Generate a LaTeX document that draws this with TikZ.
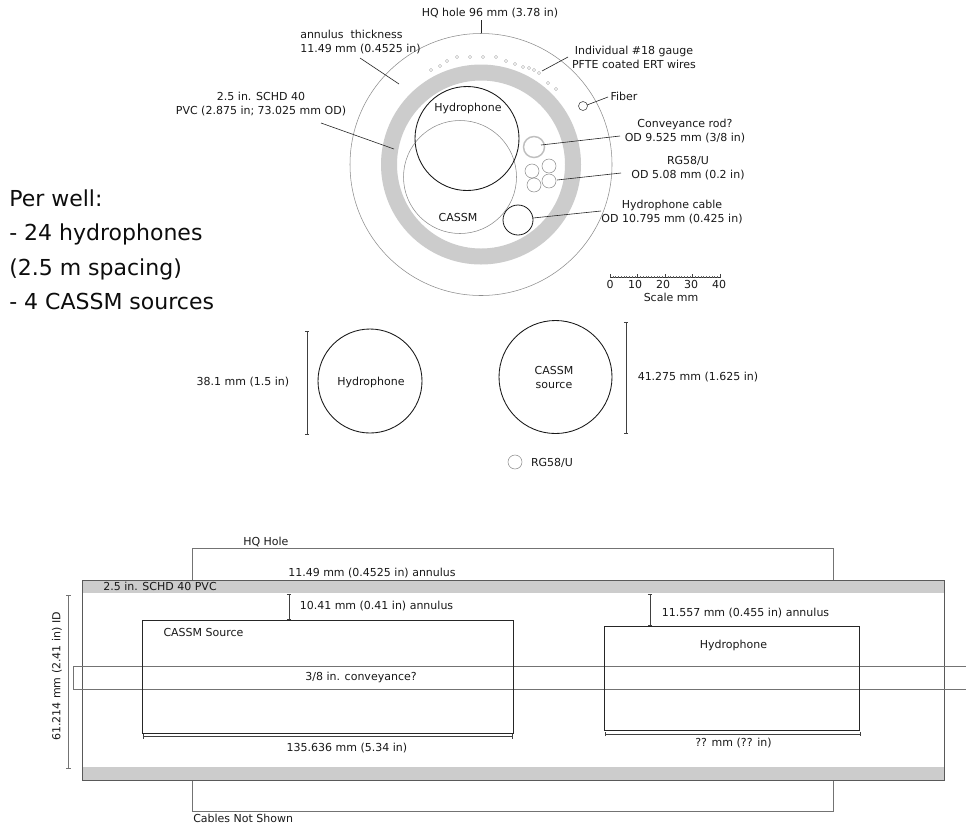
\documentclass[tikz,border=0pt]{standalone}
\usepackage{fontspec}
\usetikzlibrary{arrows.meta}
\setmainfont{DejaVu Sans}
\definecolor{pvc}{gray}{0.8}
\tikzset{
 x=0.75pt,y=-0.75pt,
 lab/.style={inner sep=0pt,align=center,yshift=-0.75pt,font=\fontsize{8.25pt}{10.4pt}\selectfont,text=black!90},
 big/.style={inner sep=0pt,anchor=base west,font=\fontsize{16.5pt}{20pt}\selectfont,text=black!95},
 leader/.style={draw=black!85,line width=0.45pt},
 thin grey/.style={draw=black!55,line width=0.45pt},
 bold ring/.style={draw=black!90,line width=0.65pt},
 grey ring/.style={draw=black!45,line width=0.4pt},
 rod ring/.style={draw=black!25,line width=1.1pt,fill=white},
 dot/.style={draw=black!35,line width=0.35pt,fill=white},
 box/.style={draw=black!85,line width=0.6pt},
 dim/.style={draw=black!75,line width=0.6pt,{Bar[width=3.2pt,line width=0.4pt]}-{Bar[width=3.2pt,line width=0.4pt]}},
}
\begin{document}
\begin{tikzpicture}
\useasboundingbox (0,0) rectangle (966,826);
% top section
\fill[white] (0,0) rectangle (966,826);
\coordinate (ctr) at (481,164.5);
\draw[grey ring] (ctr) circle (131);
\fill[pvc,even odd rule] (ctr) circle (100) (ctr) circle (84);
\draw[grey ring] (460,177) circle (56.5);
\draw[bold ring] (467,138.5) circle (52);
\draw[bold ring,line width=0.6pt] (518,220) circle (15);
\draw[rod ring] (534,147) circle (10.5);
\foreach \p in {(532,171),(549,166),(534,185),(549,181)} \draw[grey ring] \p circle (7);
\draw[draw=black!70,line width=0.45pt] (583,106) circle (4.5);
\foreach \p in {(431,70),(440,66),(447,61),(457,57),(470,57),(483,57),(496,57),(506,61),(515,64),(523,67),(529,68),(534,70),(539,73),(548,83),(556,89)} \draw[dot] \p circle (1.6);
% labels
\node[lab] (hqhole) at (490,12.5) {HQ hole 96 mm (3.78 in)};
\node[lab,anchor=west,align=left] (annul) at (300,41) {annulus\ \ thickness\\11.49 mm (0.4525 in)};
\node[lab] (pvclab) at (261,103) {2.5 in. SCHD 40\\PVC (2.875 in; 73.025 mm OD)};
\node[lab] (wires) at (634,56.5) {Individual \#18 gauge\\PFTE coated ERT wires};
\node[lab] (fiber) at (624,95) {Fiber};
\node[lab] (rod) at (685,130) {Conveyance rod?\\OD 9.525 mm (3/8 in)};
\node[lab] (rg) at (688,167.5) {RG58/U\\OD 5.08 mm (0.2 in)};
\node[lab] (hcable) at (672,211) {Hydrophone cable\\OD 10.795 mm (0.425 in)};
\node[lab] (hyd1) at (468,107) {Hydrophone};
\node[lab] (cas1) at (458,216.5) {CASSM};
% leaders
\coordinate (a1) at (481,33);
\coordinate (a2) at (399,84);
\coordinate (a2s) at (360,58);
\coordinate (a3s) at (321,123);
\coordinate (a3) at (394,149);
\coordinate (a4s) at (568,57);
\coordinate (a4) at (542,71);
\coordinate (a5s) at (608,97);
\coordinate (a5) at (587,105);
\coordinate (a6s) at (620,136);
\coordinate (a6) at (541,145);
\coordinate (a7s) at (621,173);
\coordinate (a7) at (557,180);
\coordinate (a8s) at (601,211);
\coordinate (a8) at (533,218);
\coordinate (a1s) at (481,20);
\draw[leader] (a1s)--(a1);
\draw[leader] (a2s)--(a2);
\draw[leader] (a3s)--(a3);
\draw[leader] (a4s)--(a4);
\draw[leader] (a5s)--(a5);
\draw[leader] (a6s)--(a6);
\draw[leader] (a7s)--(a7);
\draw[leader] (a8s)--(a8);
% scale
\draw[draw=black!80,line width=0.5pt] (610,277.5)--(720,277.5);
\foreach \i in {0,...,40} \draw[draw=black!60,line width=0.15pt] ({610+\i*2.75},277.5)--({610+\i*2.75},276);
\foreach \i in {0,10,...,40} \draw[draw=black!75,line width=0.3pt] ({610+\i*2.75},277.5)--({610+\i*2.75},274);
\node[lab] (s0) at (610,283.5) {0};
\node[lab] (s1) at (635,283.5) {10};
\node[lab] (s2) at (663,283.5) {20};
\node[lab] (s3) at (691,283.5) {30};
\node[lab] (s4) at (719,283.5) {40};
\node[lab] (scale) at (671,296) {Scale mm};
% per well
\node[big] (w1) at (9,206) {Per well:};
\node[big] (w2) at (9,240.5) {- 24 hydrophones};
\node[big] (w3) at (9,275) {(2.5 m spacing)};
\node[big] (w4) at (9,309) {- 4 CASSM sources};
% middle circles
\draw[bold ring] (370,381) circle (52);
\draw[bold ring] (555.5,377) circle (56.5);
\draw[grey ring] (515,462) circle (7);
\node[lab] (hyd2) at (371,381) {Hydrophone};
\node[lab] (cas2) at (554,376.5) {CASSM\\source};
\node[lab] (d381) at (243,381.5) {38.1 mm (1.5 in)};
\node[lab] (d41) at (698,376.5) {41.275 mm (1.625 in)};
\node[lab] (rg2) at (552,462) {RG58/U};
\draw[dim,line width=0.45pt] (307,331)--(307,435);
\draw[dim,line width=0.45pt] (626,322)--(626,434);
% lower: hole
\draw[thin grey] (192,580)--(192,548.5)--(833,548.5)--(833,580);
\draw[thin grey] (192,780)--(192,811)--(833,811)--(833,780);
\node[lab,anchor=west] (hq2) at (243,541.5) {HQ Hole};
\node[lab,anchor=west] (nc) at (193,817.5) {Cables Not Shown};
% pipe
\fill[pvc] (82,580) rectangle (944,593);
\fill[pvc] (82,767) rectangle (944,780);
\draw[draw=black!65,line width=0.6pt] (82,580) rectangle (944,780);
% conveyance
\draw[thin grey] (966.5,666)--(73,666)--(73,689)--(966.5,689);
% tools
\draw[box] (142.5,620.5) rectangle (513,733);
\draw[box] (604,626.5) rectangle (859.5,730.5);
\node[lab] (cas3) at (203.5,631) {CASSM Source};
\node[lab] (hyd3) at (733.5,644.5) {Hydrophone};
\node[lab] (conv) at (361,676) {3/8 in. conveyance?};
\node[lab] (pvc2) at (160,585.5) {2.5 in. SCHD 40 PVC};
\node[lab] (ann1) at (372,572.5) {11.49 mm (0.4525 in) annulus};
\node[lab] (ann2) at (376.5,605.5) {10.41 mm (0.41 in) annulus};
\node[lab] (ann3) at (745.5,612.5) {11.557 mm (0.455 in) annulus};
\node[lab] (len1) at (347,747) {135.636 mm (5.34 in)};
\node[lab] (len2) at (733.5,742) {?? mm (?? in)};
\node[lab,rotate=90] (id) at (57,675.5) {61.214 mm (2.41 in) ID};
% dims
\draw[dim] (143,736.5)--(513,736.5);
\draw[dim] (604.5,734)--(861,734);
\draw[dim] (289,593.5)--(289,620);
\draw[dim] (650,593.5)--(650,626);
\draw[dim,draw=black!55,line width=0.45pt] (68.5,595)--(68.5,769);
\end{tikzpicture}
\end{document}
